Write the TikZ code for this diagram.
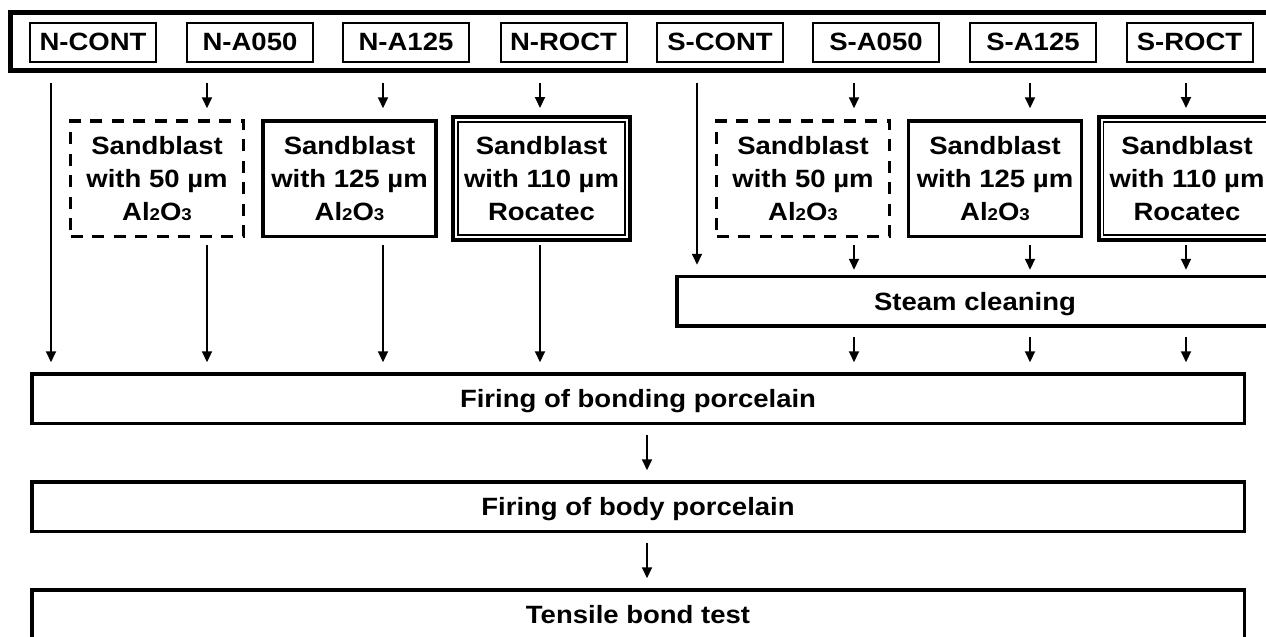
\documentclass[tikz,border=0pt]{standalone}
\usepackage{fontspec}
\setmainfont{Liberation Sans}[FakeStretch=1.1]
\usetikzlibrary{arrows.meta}
\newcommand\smalldig[1]{{\fontsize{17}{17}\selectfont #1}}
\begin{document}
\begin{tikzpicture}[x=1pt,y=-1pt,
  txt/.style={font=\bfseries\fontsize{25}{33}\selectfont, align=center, inner sep=0pt},
  lbl/.style={txt, draw, line width=2pt, minimum width=126pt, minimum height=39pt},
  bigbox/.style={txt, draw, line width=3.5pt, minimum height=49.5pt, text height=18pt, text depth=0pt},
  sbbox/.style={txt, draw, line width=3.5pt, minimum width=173pt, minimum height=115.5pt},
  dashbox/.style={sbbox, dash pattern=on 12pt off 9.5pt},
  rocbox/.style={sbbox, line width=4pt, minimum width=177pt, minimum height=123pt},
  arr/.style={line width=2pt, -{Triangle[width=10pt,length=11pt]}, shorten <=9.75pt, shorten >=9.75pt}
]
\useasboundingbox (0,0) rectangle (1266,637);
\clip (0,0) rectangle (1266,637);
% top frame
\node[draw, line width=4.5pt, minimum width=1264pt, minimum height=58pt, inner sep=0pt] (top) at (642.5,41.5) {};
% group labels
\node[lbl] (ncont) at (93,42) {N-CONT};
\node[lbl] (na050) at (250,42) {N-A050};
\node[lbl] (na125) at (406,42) {N-A125};
\node[lbl] (nroct) at (563.5,42) {N-ROCT};
\node[lbl] (scont) at (720,42) {S-CONT};
\node[lbl] (sa050) at (876,42) {S-A050};
\node[lbl] (sa125) at (1033,42) {S-A125};
\node[lbl] (sroct) at (1189.5,42) {S-ROCT};
% sandblast boxes
\node[dashbox] (nsb50) at (157,178.5) {Sandblast\\with 50 µm\\Al\smalldig{2}O\smalldig{3}};
\node[sbbox] (nsb125) at (349.5,178.5) {Sandblast\\with 125 µm\\Al\smalldig{2}O\smalldig{3}};
\node[rocbox] (nroc) at (541.5,178.5) {Sandblast\\with 110 µm\\Rocatec};
\node[dashbox] (ssb50) at (803,178.5) {Sandblast\\with 50 µm\\Al\smalldig{2}O\smalldig{3}};
\node[sbbox] (ssb125) at (995,178.5) {Sandblast\\with 125 µm\\Al\smalldig{2}O\smalldig{3}};
\node[rocbox] (sroc) at (1187,178.5) {Sandblast\\with 110 µm\\Rocatec};
\draw[line width=1.3pt] ([xshift=7pt,yshift=-7pt]nroc.north west) rectangle ([xshift=-7pt,yshift=7pt]nroc.south east);
\draw[line width=1.3pt] ([xshift=7pt,yshift=-7pt]sroc.north west) rectangle ([xshift=-7pt,yshift=7pt]sroc.south east);
% process boxes
\node[bigbox, minimum width=596pt] (steam) at (975,301) {Steam cleaning};
\node[bigbox, minimum width=1212.5pt] (bond) at (638,398.5) {Firing of bonding porcelain};
\node[bigbox, minimum width=1212.5pt] (body) at (638,506.5) {Firing of body porcelain};
\node[bigbox, minimum width=1212.5pt] (tens) at (638,614.5) {Tensile bond test};
% columns
\coordinate (c1) at (51,0);
\coordinate (c2) at (207,0);
\coordinate (c3) at (383,0);
\coordinate (c4) at (540,0);
\coordinate (c5) at (697,0);
\coordinate (c6) at (854,0);
\coordinate (c7) at (1030,0);
\coordinate (c8) at (1186,0);
\coordinate (cm) at (647,0);
% arrows from top frame
\draw[arr, shorten <=10.5pt] (top.south -| c1) -- (bond.north -| c1);
\draw[arr, shorten <=10.5pt, shorten >=10.75pt] (top.south -| c2) -- (nsb50.north -| c2);
\draw[arr, shorten <=10.5pt, shorten >=10.75pt] (top.south -| c3) -- (nsb125.north -| c3);
\draw[arr, shorten <=10.5pt, shorten >=7pt] (top.south -| c4) -- (nroc.north -| c4);
\draw[arr, shorten <=10.5pt] (top.south -| c5) -- (steam.north -| c5);
\draw[arr, shorten <=10.5pt, shorten >=10.75pt] (top.south -| c6) -- (ssb50.north -| c6);
\draw[arr, shorten <=10.5pt, shorten >=10.75pt] (top.south -| c7) -- (ssb125.north -| c7);
\draw[arr, shorten <=10.5pt, shorten >=7pt] (top.south -| c8) -- (sroc.north -| c8);
% from N sandblast boxes to bonding
\draw[arr, shorten <=6.75pt] (nsb50.south -| c2) -- (bond.north -| c2);
\draw[arr, shorten <=6.75pt] (nsb125.south -| c3) -- (bond.north -| c3);
\draw[arr, shorten <=3pt] (nroc.south -| c4) -- (bond.north -| c4);
% from S sandblast boxes to steam
\draw[arr, shorten <=6.75pt, shorten >=4.75pt] (ssb50.south -| c6) -- (steam.north -| c6);
\draw[arr, shorten <=6.75pt, shorten >=4.75pt] (ssb125.south -| c7) -- (steam.north -| c7);
\draw[arr, shorten <=3pt, shorten >=4.75pt] (sroc.south -| c8) -- (steam.north -| c8);
% steam to bonding
\draw[arr] (steam.south -| c6) -- (bond.north -| c6);
\draw[arr] (steam.south -| c7) -- (bond.north -| c7);
\draw[arr] (steam.south -| c8) -- (bond.north -| c8);
% vertical chain
\draw[arr] (bond.south -| cm) -- (body.north -| cm);
\draw[arr] (body.south -| cm) -- (tens.north -| cm);
\end{tikzpicture}
\end{document}
